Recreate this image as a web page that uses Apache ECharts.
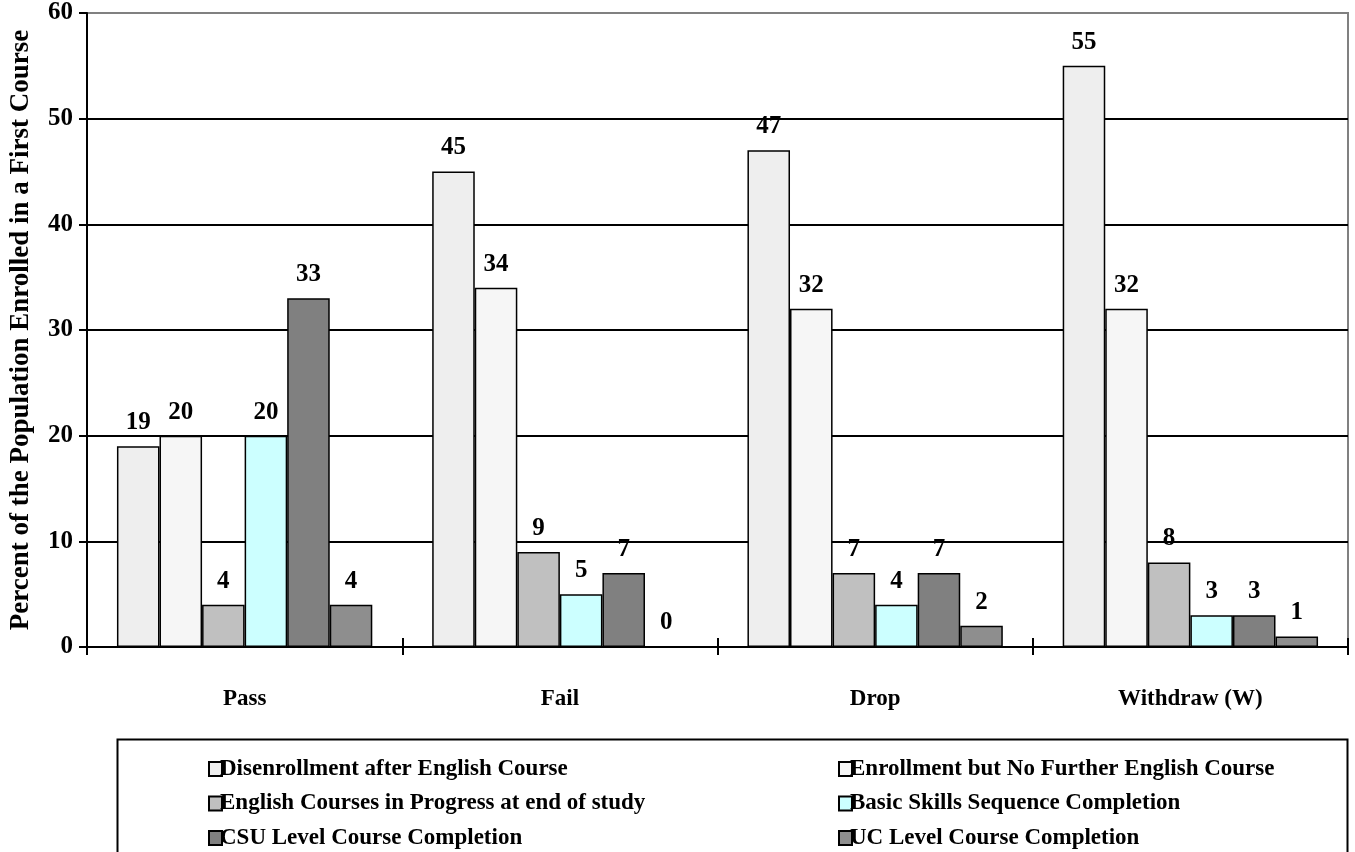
<!DOCTYPE html>
<html>
<head>
<meta charset="utf-8">
<script src="https://cdn.jsdelivr.net/npm/echarts@6/dist/echarts.min.js"></script>
<style>html,body{margin:0;padding:0;background:#fff;}#c{width:1355px;height:852px;}</style>
</head>
<body>
<div id="c"></div>
<script>
const categories = ['Pass', 'Fail', 'Drop', 'Withdraw (W)'];
const seriesNames = [
  'Disenrollment after English Course',
  'Enrollment but No Further English Course',
  'English Courses in Progress at end of study',
  'Basic Skills Sequence Completion',
  'CSU Level Course Completion',
  'UC Level Course Completion'
];
const disenrollment = [19, 45, 47, 55];
const enrollmentNoFurther = [20, 34, 32, 32];
const inProgress = [4, 9, 7, 8];
const basicSkills = [20, 5, 4, 3];
const csuLevel = [33, 7, 7, 3];
const ucLevel = [4, 0, 2, 1];
const yTicks = [0, 10, 20, 30, 40, 50, 60];

const values = [disenrollment, enrollmentNoFurther, inProgress, basicSkills, csuLevel, ucLevel];
const colors = ['#EEEEEE', '#F6F6F6', '#C0C0C0', '#CCFFFF', '#808080', '#8E8E8E'];
const FONT = '"Liberation Serif", "Times New Roman", serif';

const legendText = {fontFamily: FONT, fontWeight: 'bold', fontSize: 23, color: '#000', lineHeight: 24, padding: [0, 0, 0, -7]};

const chart = echarts.init(document.getElementById('c'), null, {renderer: 'canvas'});
chart.setOption({
  animation: false,
  backgroundColor: '#fff',
  grid: {left: 87, right: 7, top: 13, bottom: 205, containLabel: false, outerBoundsMode: 'none',
         show: true, borderColor: '#808080', borderWidth: 2, backgroundColor: 'transparent'},
  xAxis: [{
    type: 'category', data: categories,
    axisLine: {lineStyle: {color: '#000', width: 2}},
    axisTick: {show: true, length: 8, lineStyle: {color: '#000', width: 2}},
    axisLabel: {fontFamily: FONT, fontWeight: 'bold', fontSize: 23, color: '#000', margin: 41},
    splitLine: {show: false}
  }, {
    type: 'category', data: categories, position: 'bottom',
    axisLine: {show: false},
    axisTick: {show: true, inside: true, length: 9, lineStyle: {color: '#000', width: 2}},
    axisLabel: {show: false}, splitLine: {show: false}
  }],
  yAxis: {
    type: 'value', min: 0, max: 60, interval: 10,
    name: 'Percent of the Population Enrolled in a First Course',
    nameLocation: 'middle', nameRotate: 90, nameGap: 52,
    nameTextStyle: {fontFamily: FONT, fontWeight: 'bold', fontSize: 27, color: '#000'},
    axisLine: {show: true, lineStyle: {color: '#000', width: 2}},
    axisTick: {show: true, length: 8, lineStyle: {color: '#000', width: 2}},
    axisLabel: {fontFamily: FONT, fontWeight: 'bold', fontSize: 25, color: '#000', margin: 14,
      formatter: v => yTicks.includes(v) ? String(v) : ''},
    splitLine: {show: true, showMinLine: false, showMaxLine: false, lineStyle: {color: '#000', width: 2}}
  },
  legend: [
    {left: 203, top: 752, height: 160, orient: 'vertical', itemGap: 10.5, itemWidth: 13, itemHeight: 14,
     icon: 'rect', data: [seriesNames[0], seriesNames[2], seriesNames[4]], textStyle: legendText},
    {left: 833, top: 752, height: 160, orient: 'vertical', itemGap: 10.5, itemWidth: 13, itemHeight: 14,
     icon: 'rect', data: [seriesNames[1], seriesNames[3], seriesNames[5]], textStyle: legendText}
  ],
  graphic: [{
    type: 'rect', left: 115, top: 737, z: -1,
    shape: {width: 1230, height: 140},
    style: {fill: 'none', stroke: '#000', lineWidth: 2}
  }],
  series: seriesNames.map((name, i) => ({
    name: name, type: 'bar', data: values[i], xAxisIndex: 0,
    barGap: '0%', barCategoryGap: '19%',
    itemStyle: {color: colors[i], borderColor: '#000', borderWidth: 1.5},
    label: {show: true, position: 'top', distance: 11, fontFamily: FONT, fontWeight: 'bold', fontSize: 25, color: '#000'}
  }))
});
</script>
</body>
</html>
